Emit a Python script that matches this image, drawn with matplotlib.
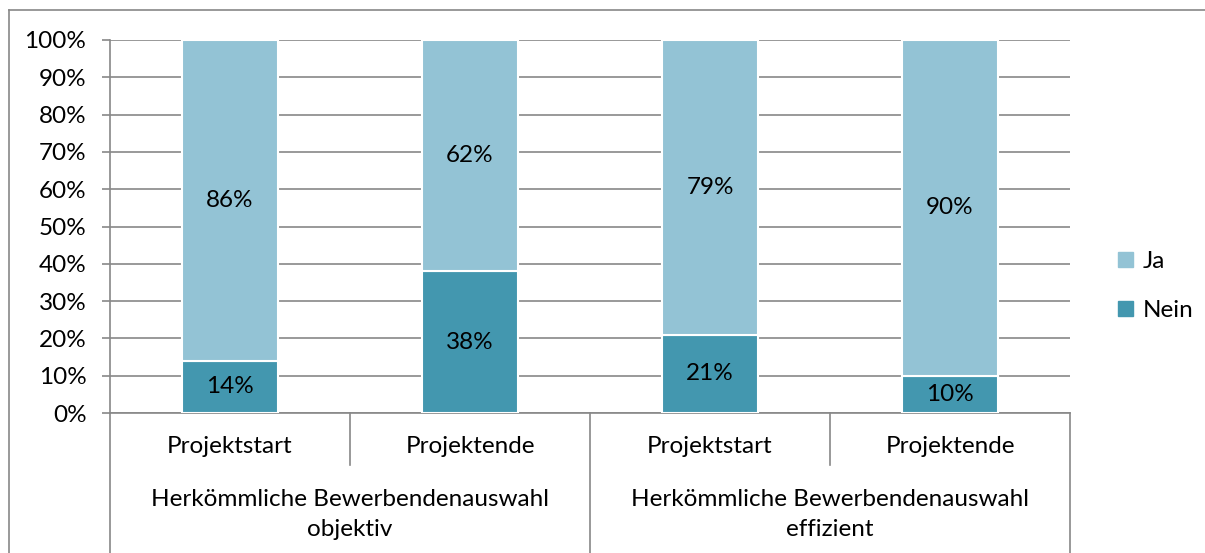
import matplotlib.pyplot as plt
from matplotlib.lines import Line2D
from matplotlib.patches import Patch
import matplotlib.transforms as mtransforms

plt.rcParams['font.family'] = ['Lato', 'DejaVu Sans']

# daten
phase = ['Projektstart', 'Projektende', 'Projektstart', 'Projektende']
gruppen = ['Herkömmliche Bewerbendenauswahl\nobjektiv',
           'Herkömmliche Bewerbendenauswahl\neffizient']
nein = [14, 38, 21, 10]
ja = [86, 62, 79, 90]

c_ja = '#93c3d5'
c_nein = '#4397af'
grau = '#888888'
fs = 17.5

fig = plt.figure(figsize=(12.05, 5.53), dpi=100)
ax = fig.add_axes([110 / 1205, 1 - 413 / 553, 960 / 1205, 373 / 553])

x = range(len(phase))
ax.bar(x, nein, 0.4, color=c_nein, edgecolor='white', linewidth=1.5, label='Nein', zorder=3)
ax.bar(x, ja, 0.4, bottom=nein, color=c_ja, edgecolor='white', linewidth=1.5, label='Ja', zorder=3)

# werte in die balken
for i in x:
    ax.text(i, nein[i] / 2, f'{nein[i]}%', ha='center', va='center', fontsize=fs, zorder=4)
    ax.text(i, nein[i] + ja[i] / 2, f'{ja[i]}%', ha='center', va='center', fontsize=fs, zorder=4)

ax.set_xlim(-0.5, 3.5)
ax.set_ylim(0, 100)
ax.set_yticks(range(0, 101, 10))
ax.set_yticklabels([f'{v}%' for v in range(0, 101, 10)], fontsize=fs)
ax.tick_params(axis='y', length=6, width=1.2, color=grau, pad=11)
ax.set_xticks([])
ax.grid(axis='y', color=grau, linewidth=1.2, zorder=0)
for s in ['top', 'right']:
    ax.spines[s].set_visible(False)
ax.spines['left'].set_color(grau)
ax.spines['bottom'].set_color(grau)
ax.spines['left'].set_linewidth(1.2)
ax.spines['bottom'].set_linewidth(1.2)

# zweistufige achse
trans = mtransforms.blended_transform_factory(ax.transData, ax.transAxes)
for xs in [0.5, 2.5]:
    ax.add_line(Line2D([xs, xs], [0, -0.139], transform=trans, color=grau, lw=1.2, clip_on=False))
for xs in [-0.5, 1.5, 3.5]:
    ax.add_line(Line2D([xs, xs], [0, -0.4], transform=trans, color=grau, lw=1.2, clip_on=False))
for i in x:
    ax.text(i, -0.091, phase[i], transform=trans, ha='center', va='center', fontsize=fs)
for j, g in enumerate(gruppen):
    ax.text(0.5 + 2 * j, -0.272, g, transform=trans, ha='center', va='center',
            fontsize=fs, linespacing=1.55)

handles = [Patch(color=c_ja, label='Ja'), Patch(color=c_nein, label='Nein')]
fig.legend(handles=handles, loc='center left', bbox_to_anchor=(1106 / 1205, 1 - 286 / 553),
           frameon=False, fontsize=fs, handlelength=0.6, handleheight=0.6,
           handletextpad=0.4, labelspacing=1.15, borderpad=0)

# rahmen
fig.add_artist(Line2D([9 / 1205, 9 / 1205], [0, 1 - 10 / 553], color=grau, lw=1.2))
fig.add_artist(Line2D([9 / 1205, 1], [1 - 10 / 553, 1 - 10 / 553], color=grau, lw=1.2))

fig.savefig('out.png', dpi=100)
